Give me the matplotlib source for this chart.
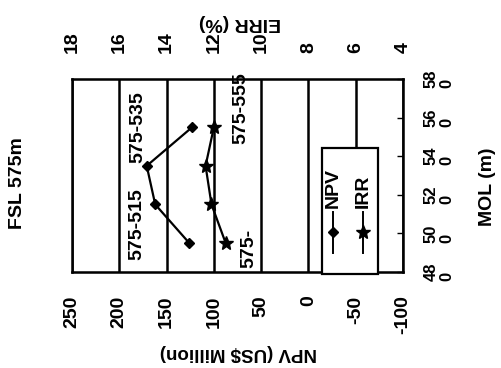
import matplotlib.pyplot as plt
from matplotlib.patches import Rectangle
from matplotlib.lines import Line2D

plt.rcParams['font.family'] = ['Liberation Sans', 'DejaVu Sans']
plt.rcParams['font.weight'] = 'bold'

# MOL options for FSL 575 m
mol = [495, 515, 535, 555]
npv = [126, 162, 171, 123]          # US$ million
eirr = [11.5, 12.1, 12.35, 12.0]    # %
case_labels = ['575-', '575-515', '575-535', '575-555']
case_pos = [(63, 492), (181, 505), (180, 555), (71, 565)]

npv_ticks = [250, 200, 150, 100, 50, 0, -50, -100]
eirr_ticks = [18, 16, 14, 12, 10, 8, 6, 4]
mol_ticks = [480, 500, 520, 540, 560, 580]
mol_labels = ['48\n0', '50\n0', '52\n0', '54\n0', '56\n0', '58\n0']

fig = plt.figure(figsize=(5.01, 3.68), dpi=100)
ax = fig.add_axes([72/501, 1 - 272/368, 331/501, 193/368])

# chart is laid out sideways: NPV runs across, MOL runs up
ax.set_xlim(250, -100)
ax.set_ylim(480, 580)
ax.set_xticks(npv_ticks)
ax.set_xticklabels([str(v) for v in npv_ticks])
ax.tick_params(axis='x', length=0, pad=17, labelrotation=90, labelsize=14)
ax.grid(axis='x', color='black', linewidth=1.8)
for s in ax.spines.values():
    s.set_linewidth(1.8)

ax.yaxis.tick_right()
ax.set_yticks(mol_ticks)
ax.set_yticklabels(mol_labels)
ax.tick_params(axis='y', direction='in', length=4, width=1, pad=15, labelsize=12)
for t in ax.get_yticklabels():
    t.set_rotation(90)
    t.set_va('center')
    t.set_linespacing(1.05)

ax2 = ax.twiny()
ax2.set_xlim(18, 4)
ax2.set_xticks(eirr_ticks)
ax2.tick_params(axis='x', length=0, pad=19, labelrotation=90, labelsize=14)

ax.plot(npv, mol, color='black', lw=1.6, marker='D', ms=5.5, zorder=3)
ax2.plot(eirr, mol, color='black', lw=1.6, marker='*', ms=10, zorder=3)

for txt, (x, y) in zip(case_labels, case_pos):
    ax.text(x, y, txt, rotation=90, ha='center', va='center', fontsize=14)

# legend box, drawn by hand so the entries read sideways
ax2.add_patch(Rectangle((0.755, -0.01), 0.169, 0.652, transform=ax2.transAxes,
                        facecolor='white', edgecolor='black', lw=1.6,
                        zorder=5, clip_on=False))
ax2.add_line(Line2D([0.79, 0.79, 0.79], [0.10, 0.205, 0.31], transform=ax2.transAxes,
                    color='black', lw=1.4, marker='D', ms=5.5, markevery=[1], zorder=6))
ax2.add_line(Line2D([0.88, 0.88, 0.88], [0.10, 0.205, 0.31], transform=ax2.transAxes,
                    color='black', lw=1.4, marker='*', ms=10, markevery=[1], zorder=6))
ax2.text(0.79, 0.33, 'NPV', rotation=90, ha='center', va='bottom', fontsize=14,
         transform=ax2.transAxes, zorder=7)
ax2.text(0.88, 0.33, 'IRR', rotation=90, ha='center', va='bottom', fontsize=14,
         transform=ax2.transAxes, zorder=7)

fig.text(238/501, 1 - 352/368, 'NPV (US$ Million)', rotation=180,
         ha='center', va='center', fontsize=13.5)
fig.text(240/501, 1 - 22/368, 'EIRR (%)', rotation=180,
         ha='center', va='center', fontsize=14)
fig.text(488/501, 1 - 187/368, 'MOL (m)', rotation=90,
         ha='center', va='center', fontsize=14)
fig.text(18/501, 1 - 183/368, 'FSL 575m', rotation=90,
         ha='center', va='center', fontsize=14)

fig.savefig('out.png', dpi=100)
